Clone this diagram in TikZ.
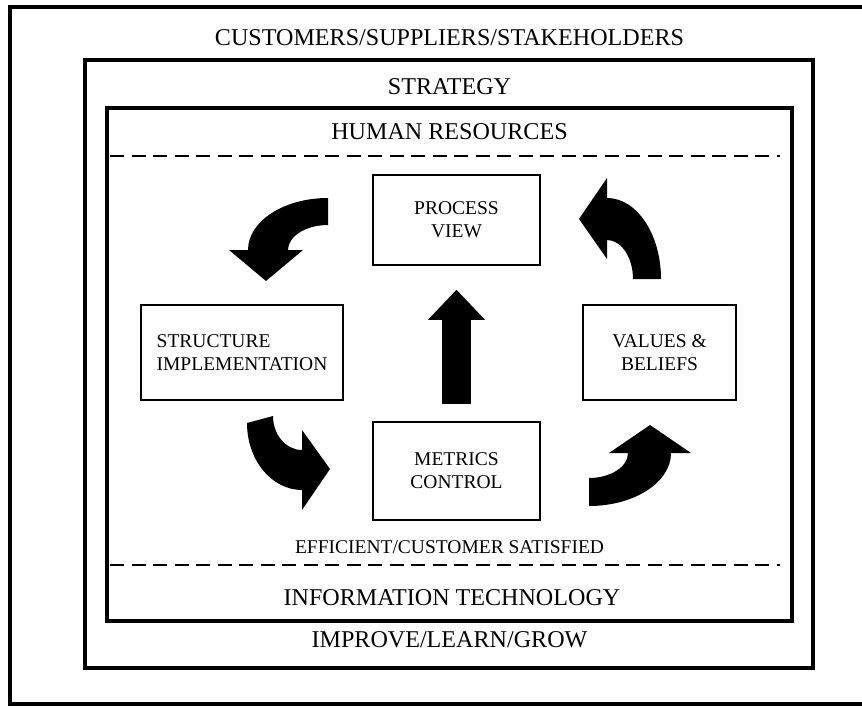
\documentclass[tikz,border=0pt]{standalone}
\usepackage{fontspec}
\setmainfont{Liberation Serif}
\usetikzlibrary{arrows.meta}

\tikzset{
  frame/.style={draw,line width=4pt},
  sepline/.style={line width=2pt,dash pattern=on 14pt off 7.5pt},
  biglabel/.style={anchor=base,font=\fontsize{24.1}{28}\selectfont},
  smalllabel/.style={anchor=base,font=\fontsize{19.5}{23}\selectfont},
  stagebox/.style={draw,line width=1.6pt,align=center,inner sep=0pt,font=\fontsize{19.5}{23}\selectfont},
  flowarrow/.style={fill=black}
}

\begin{document}
\begin{tikzpicture}[x=1pt,y=-1pt]
\useasboundingbox (0,0) rectangle (862,709);
\clip (0,0) rectangle (862,709);
\draw[frame] (10,7) rectangle (900,704);
\draw[frame,line width=3.6pt] (85,60) rectangle (813,668);
\draw[frame,line width=3.4pt] (107,108) rectangle (792,621);
\draw[sepline] (110,156) -- (780,156);
\draw[sepline] (110,565) -- (780,565);
\node[biglabel] (stake) at (449.5,46) {CUSTOMERS/SUPPLIERS/STAKEHOLDERS};
\node[biglabel] (strategy) at (449.5,94) {STRATEGY};
\node[biglabel] (hr) at (449.5,139) {HUMAN RESOURCES};
\node[smalllabel] (goal) at (449.5,553) {EFFICIENT/CUSTOMER SATISFIED};
\node[biglabel] (it) at (452,605) {INFORMATION TECHNOLOGY};
\node[biglabel] (improve) at (449.5,647) {IMPROVE/LEARN/GROW};
\node[stagebox,minimum width=167pt,minimum height=90pt] (process) at (456.5,220) {PROCESS\\VIEW};
\node[stagebox,minimum width=167pt,minimum height=98pt] (metrics) at (456.5,471) {METRICS\\CONTROL};
\node[stagebox,align=left,minimum width=202pt,minimum height=95pt] (structure) at (242,352.5) {STRUCTURE\\IMPLEMENTATION};
\node[stagebox,minimum width=153pt,minimum height=95pt] (values) at (659.5,352.5) {VALUES \&\\BELIEFS};
\draw[line width=29pt,-{Triangle[length=30pt 0,width=57pt 0,line width=0pt]},shorten <=17pt,shorten >=24pt] (metrics.north) -- (process.south);
\fill[flowarrow] (328,198) .. controls (283.8,198) and (248,221.3) .. (248,250) -- (229,250) -- (266,281) -- (303,250) -- (288,250) .. controls (288,236.2) and (305.9,225) .. (328,225) -- cycle;
\fill[flowarrow] (661,279) .. controls (661,234.3) and (636.8,198) .. (607,198) -- (607,178) -- (579,219) -- (607,259) -- (607,240) .. controls (621.4,240) and (633,257.5) .. (633,279) -- cycle;
\fill[flowarrow] (247,423) .. controls (247,460) and (271.6,490) .. (302,490) -- (302,510) -- (330,469) -- (302,430) -- (302,450) .. controls (286,450) and (273,434.8) .. (273,416) -- cycle;
\fill[flowarrow] (589,506) .. controls (634.3,506) and (671,482.3) .. (671,453) -- (691,453) -- (650,425) -- (609,453) -- (628,453) .. controls (628,466.8) and (610.5,478) .. (589,478) -- cycle;
\end{tikzpicture}
\end{document}
